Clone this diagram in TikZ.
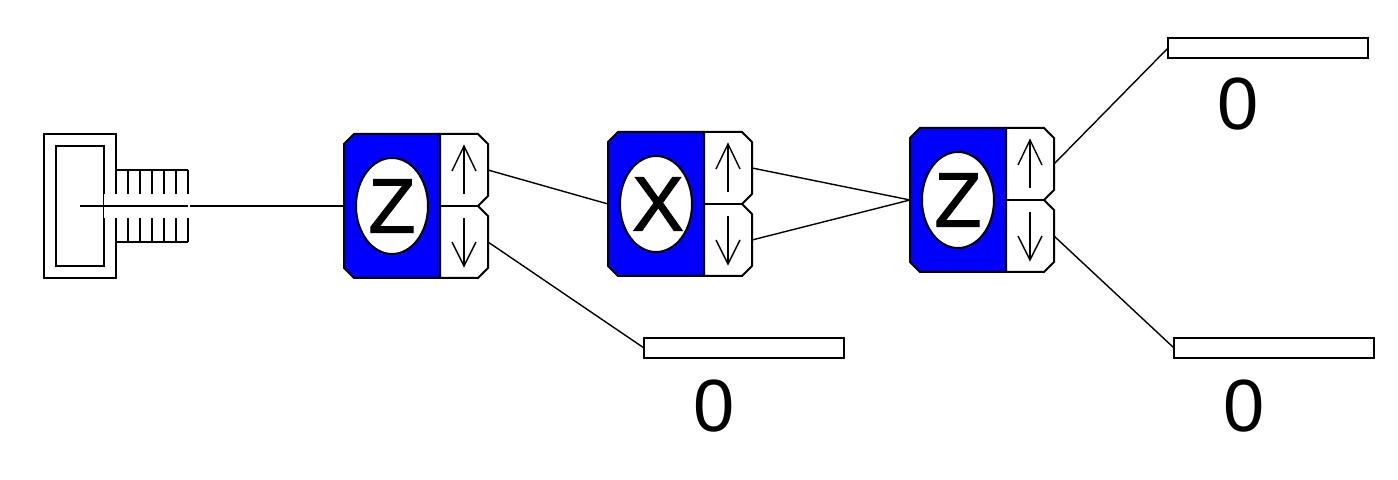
\documentclass[tikz,border=0pt]{standalone}
\usepackage{fontspec}
\setmainfont{Liberation Sans}
\newfontface\gatefont{Liberation Sans}[FakeBold=1.6]
\usetikzlibrary{shapes.geometric}

\tikzset{
  thick line/.style={line width=1pt, line join=miter},
  thin line/.style={line width=0.7pt},
  gate disc/.style={ellipse, draw, thick line, fill=white, inner sep=0pt, outer sep=0pt,
    minimum width=36pt, minimum height=48pt, font=\fontsize{38.5}{38.5}\gatefont},
  out box/.style={rectangle, draw, thick line, fill=white, inner sep=0pt, outer sep=0pt,
    minimum width=100pt, minimum height=10pt},
  out value/.style={inner sep=0pt, font=\fontsize{37}{37}\selectfont}
}

\newcommand{\gatebox}[4]{
  \begin{scope}[shift={(#2,#3)}]
    \fill[blue] (10, 0) -- (96, 0) -- (96, 144) -- (10, 144) -- (0, 134) -- (0, 10) -- cycle;
    \draw[thick line]
          (96, 0) -- (10, 0) -- (0, 10) -- (0, 134) -- (10, 144) -- (96, 144);
    \draw[thick line]
          ( 96,   0) --
          (134,   0) --
          (144,  10) --
          (144,  62) --
          (134,  72) --
          (144,  82) --
          (144, 134) --
          (134, 144) --
          ( 96, 144) --
          cycle;
    \draw[thick line] (96, 72) -- (134, 72);
    \draw[thin line] (120, 60) -- (120, 12);
    \draw[thin line] (108, 37) -- (120, 12) -- (132, 37);
    \draw[thin line] (120, 84) -- (120, 132);
    \draw[thin line] (108, 108) -- (120, 132) -- (132, 108);
    \node[gate disc] (#1) at (48, 72) {\makebox[0pt]{#4}};
    \coordinate (#1in) at (0, 72);
    \coordinate (#1up) at (144, 36);
    \coordinate (#1down) at (144, 108);
  \end{scope}
}

\begin{document}
\begin{tikzpicture}[x=0.5pt, y=-0.5pt]
      \useasboundingbox (0, 0) rectangle (1398, 480);

      \draw[thick line] (44, 134) rectangle (116, 278);
      \draw[thick line] (56, 146) rectangle (104, 266);
      \draw[thick line] (116, 170) -- (188, 170);
      \draw[thick line] (116, 242) -- (188, 242);
      \foreach \x in {116, 128, ..., 188}
            \draw[thick line] (\x, 170) -- (\x, 242);
      \fill[white] (104.2, 194) rectangle (190, 218);
      \coordinate (source) at (80, 206);

      \gatebox{gatea}{344}{134}{Z}
      \gatebox{gateb}{608}{132}{\kern2pt X}
      \gatebox{gatec}{910}{128}{Z}

      \node[out box] (outa) at (744, 348) {};
      \node[out box] (outb) at (1268, 48) {};
      \node[out box] (outc) at (1274, 348) {};
      \node[out value] (vala) at (714, 406) {0};
      \node[out value] (valb) at (1238, 104) {0};
      \node[out value] (valc) at (1244, 406) {0};

      \draw[thick line] (source) -- (gateain);
      \draw[line width=1pt, white] (189, 204) -- (189, 208);
      \draw[thin line] (gateaup) -- (gatebin);
      \draw[thin line] (gateadown) -- (outa.west);
      \draw[thin line] (gatebup) -- (gatecin);
      \draw[thin line] (gatebdown) -- (gatecin);
      \draw[thin line] (gatecup) -- (outb.west);
      \draw[thin line] (gatecdown) -- (outc.west);
\end{tikzpicture}
\end{document}
